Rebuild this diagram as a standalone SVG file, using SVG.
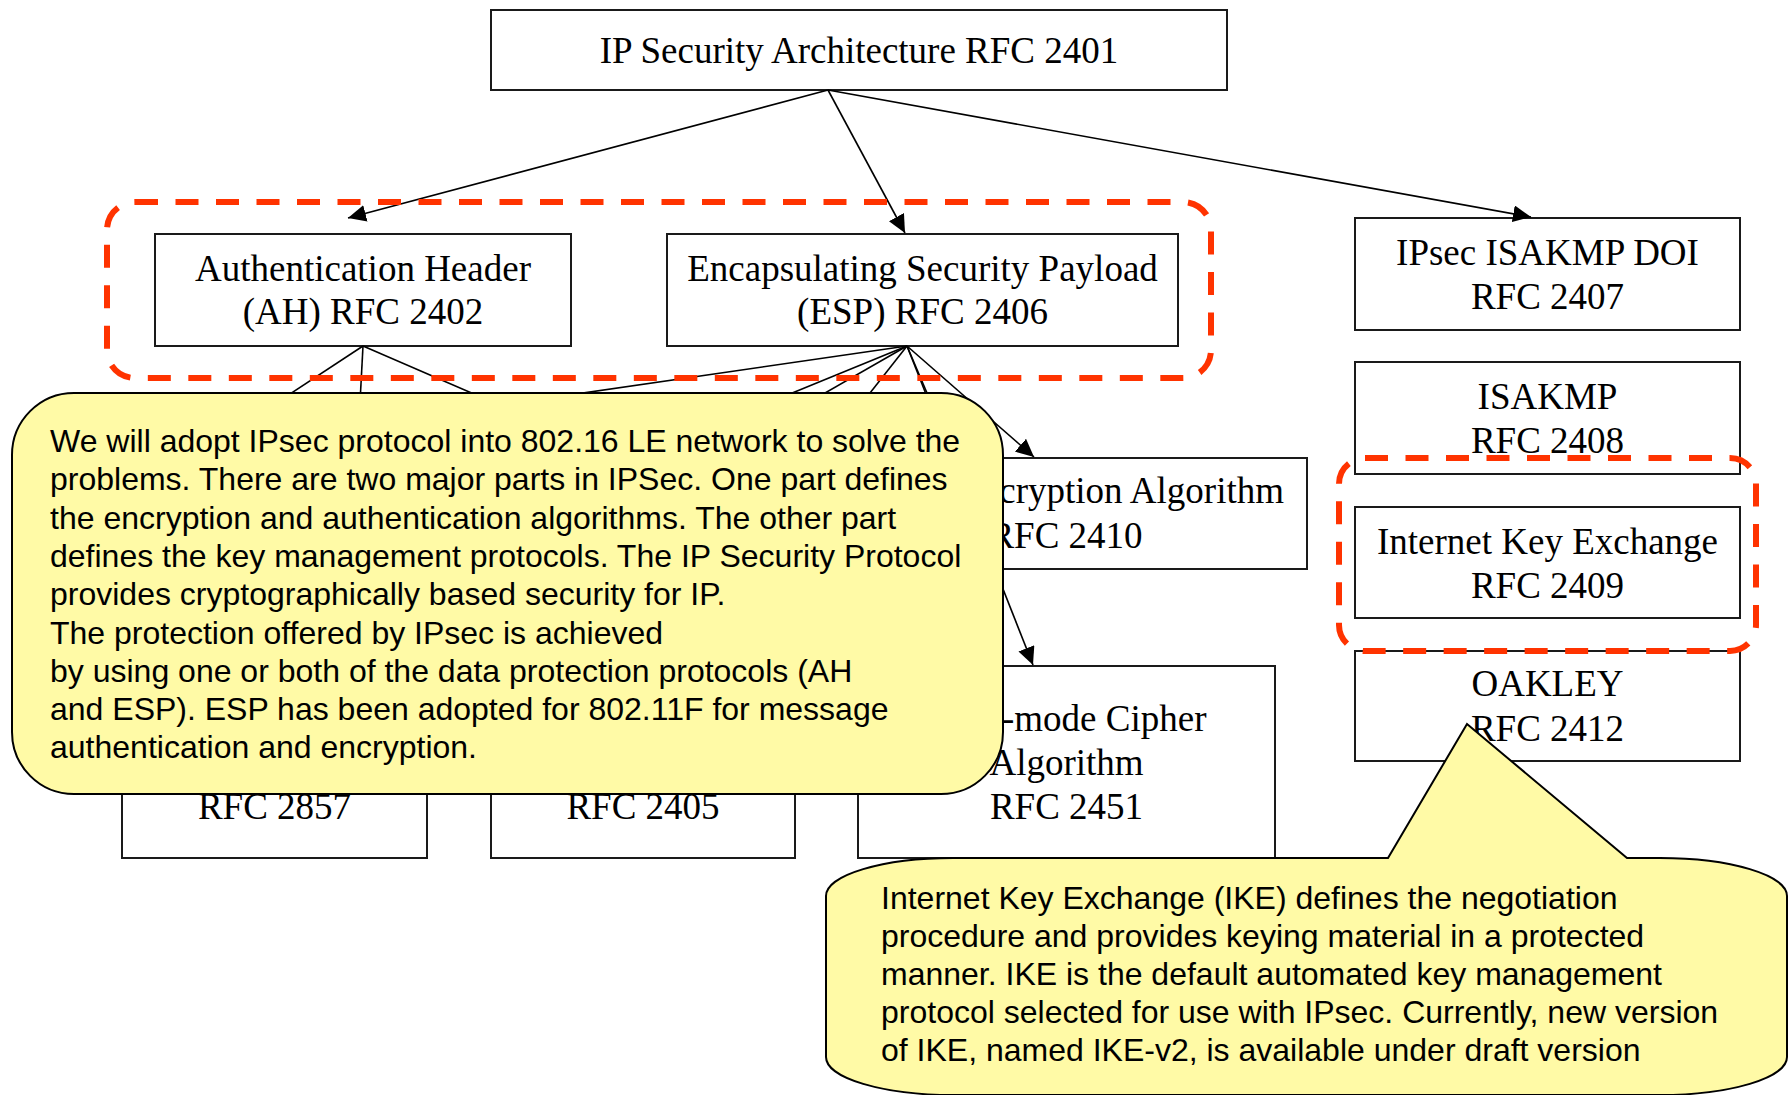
<svg xmlns="http://www.w3.org/2000/svg" width="1790" height="1095" viewBox="0 0 1790 1095">
  <defs>
    <marker id="arrow" markerUnits="userSpaceOnUse" markerWidth="19" markerHeight="18" refX="18" refY="8.5" orient="auto">
      <path d="M0,0 L18,8.5 L0,17 z" fill="#000"/>
    </marker>
    <style>
      .box { fill: #fff; stroke: #1a1a1a; stroke-width: 2; }
      .lbl { font-family: "Liberation Serif", "Times New Roman", serif; font-size: 37px; fill: #000; text-anchor: middle; }
      .lbl-end { text-anchor: end; }
      .edge { fill: none; stroke: #000; stroke-width: 1.6; }
      .group { fill: none; stroke: #ff3300; stroke-width: 6; stroke-dasharray: 23 17.5; }
      .note { fill: #fffaa6; stroke: #000; stroke-width: 2; }
      .notetxt { font-family: "Liberation Sans", Arial, sans-serif; font-size: 32px; fill: #000; }
    </style>
  </defs>

  <rect width="1790" height="1095" fill="#fff"/>

  <!-- nodes -->
  <g id="arch">
    <rect class="box" x="491" y="10" width="736" height="80"/>
    <text class="lbl" x="859" y="63">IP Security Architecture RFC 2401</text>
  </g>
  <g id="ah">
    <rect class="box" x="155" y="234" width="416" height="112"/>
    <text class="lbl" x="363" y="281">Authentication Header</text>
    <text class="lbl" x="363" y="324">(AH) RFC 2402</text>
  </g>
  <g id="esp">
    <rect class="box" x="667" y="234" width="511" height="112"/>
    <text class="lbl" x="922.5" y="281">Encapsulating Security Payload</text>
    <text class="lbl" x="922.5" y="324">(ESP) RFC 2406</text>
  </g>
  <g id="doi">
    <rect class="box" x="1355" y="218" width="385" height="112"/>
    <text class="lbl" x="1547.5" y="265">IPsec ISAKMP DOI</text>
    <text class="lbl" x="1547.5" y="309">RFC 2407</text>
  </g>
  <g id="isakmp">
    <rect class="box" x="1355" y="362" width="385" height="112"/>
    <text class="lbl" x="1547.5" y="409">ISAKMP</text>
    <text class="lbl" x="1547.5" y="453">RFC 2408</text>
  </g>
  <g id="ike">
    <rect class="box" x="1355" y="507" width="385" height="111"/>
    <text class="lbl" x="1547.5" y="554">Internet Key Exchange</text>
    <text class="lbl" x="1547.5" y="598">RFC 2409</text>
  </g>
  <g id="oakley">
    <rect class="box" x="1355" y="651" width="385" height="110"/>
    <text class="lbl" x="1547.5" y="696">OAKLEY</text>
    <text class="lbl" x="1547.5" y="741">RFC 2412</text>
  </g>
  <g id="enc-alg">
    <rect class="box" x="825" y="458" width="482" height="111"/>
    <text class="lbl lbl-end" x="1284" y="503">cryption Algorithm</text>
    <text class="lbl" x="1066" y="548">RFC 2410</text>
  </g>
  <g id="rfc2857">
    <rect class="box" x="122" y="666" width="305" height="192"/>
    <text class="lbl" x="274.5" y="819">RFC 2857</text>
  </g>
  <g id="rfc2405">
    <rect class="box" x="491" y="666" width="304" height="192"/>
    <text class="lbl" x="643" y="819">RFC 2405</text>
  </g>
  <g id="cipher">
    <rect class="box" x="858" y="666" width="417" height="192"/>
    <text class="lbl lbl-end" x="1206.5" y="731">-mode Cipher</text>
    <text class="lbl" x="1066.5" y="775">Algorithm</text>
    <text class="lbl" x="1066.5" y="819">RFC 2451</text>
  </g>

  <!-- connectors -->
  <g id="connectors">
    <line class="edge" x1="828" y1="90" x2="348" y2="218" marker-end="url(#arrow)"/>
    <line class="edge" x1="828" y1="90" x2="905" y2="233" marker-end="url(#arrow)"/>
    <line class="edge" x1="828" y1="90" x2="1531" y2="217" marker-end="url(#arrow)"/>
    <!-- from AH -->
    <line class="edge" x1="363" y1="346" x2="220" y2="440"/>
    <line class="edge" x1="363" y1="346" x2="358" y2="440"/>
    <line class="edge" x1="363" y1="346" x2="580" y2="440"/>
    <!-- from ESP -->
    <line class="edge" x1="907" y1="346" x2="397" y2="420"/>
    <line class="edge" x1="907" y1="346" x2="677" y2="440"/>
    <line class="edge" x1="907" y1="346" x2="743" y2="440"/>
    <line class="edge" x1="907" y1="346" x2="833" y2="440"/>
    <line class="edge" x1="907" y1="346" x2="947" y2="440"/>
    <line class="edge" x1="907" y1="346" x2="1034" y2="457" marker-end="url(#arrow)"/>
    <line class="edge" x1="907" y1="346" x2="1033" y2="665" marker-end="url(#arrow)"/>
  </g>

  <!-- dashed groupings -->
  <g id="grp-ah-esp">
    <rect class="group" x="107" y="202" width="1104" height="176" rx="28" ry="28"/>
  </g>
  <g id="grp-ike">
    <rect class="group" x="1339" y="458" width="417" height="193" rx="26" ry="26"/>
  </g>

  <!-- notes -->
  <g id="note-ipsec">
    <rect class="note" x="12" y="393" width="991" height="401" rx="62" ry="62"/>
    <text class="notetxt" x="50" y="452">We will adopt IPsec protocol into 802.16 LE network to solve the</text>
    <text class="notetxt" x="50" y="490">problems. There are two major parts in IPSec. One part defines</text>
    <text class="notetxt" x="50" y="528.5">the encryption and authentication algorithms. The other part</text>
    <text class="notetxt" x="50" y="567">defines the key management protocols. The IP Security Protocol</text>
    <text class="notetxt" x="50" y="605">provides cryptographically based security for IP.</text>
    <text class="notetxt" x="50" y="643.5">The protection offered by IPsec is achieved</text>
    <text class="notetxt" x="50" y="681.5">by using one or both of the data protection protocols (AH</text>
    <text class="notetxt" x="50" y="720">and ESP). ESP has been adopted for 802.11F for message</text>
    <text class="notetxt" x="50" y="758">authentication and encryption.</text>
  </g>
  <g id="note-ike">
    <path class="note" d="M953,858 L1388,858 L1467,724 L1627,858 L1660,858 A127,38 0 0 1 1787,896 L1787,1057 A127,38 0 0 1 1660,1095 L953,1095 A127,38 0 0 1 826,1057 L826,896 A127,38 0 0 1 953,858 Z"/>
    <text class="notetxt" x="881" y="908.5">Internet Key Exchange (IKE) defines the negotiation</text>
    <text class="notetxt" x="881" y="946.5">procedure and provides keying material in a protected</text>
    <text class="notetxt" x="881" y="985">manner. IKE is the default automated key management</text>
    <text class="notetxt" x="881" y="1023">protocol selected for use with IPsec. Currently, new version</text>
    <text class="notetxt" x="881" y="1061">of IKE, named IKE-v2, is available under draft version</text>
  </g>
</svg>
